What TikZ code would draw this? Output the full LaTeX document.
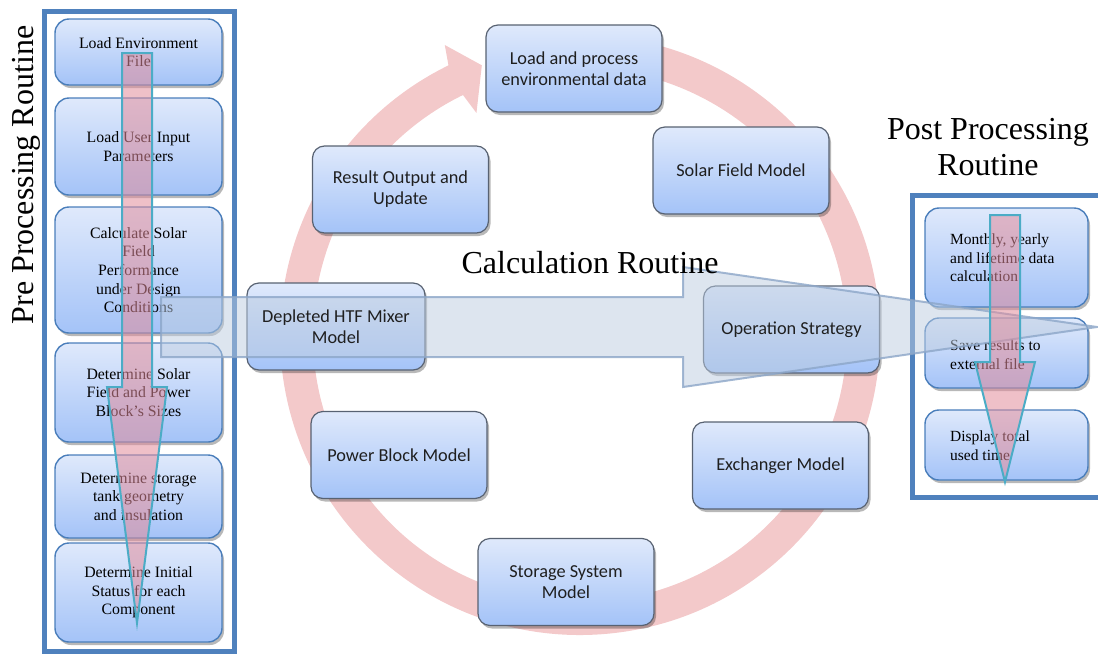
\documentclass[tikz,border=0pt]{standalone}
\usepackage{fontspec}
\setmainfont{Liberation Serif}
\newfontfamily\calib{Carlito}
\usetikzlibrary{shadows}
\definecolor{ringc}{RGB}{243,201,202}
\definecolor{boxtop}{RGB}{223,233,251}
\definecolor{boxbot}{RGB}{164,195,248}
\definecolor{cborder}{RGB}{88,98,114}
\definecolor{lborder}{RGB}{74,126,187}
\definecolor{framec}{RGB}{79,129,189}
\definecolor{tealc}{RGB}{75,172,198}
\definecolor{pinkc}{RGB}{225,140,155}
\definecolor{bigfill}{RGB}{188,204,224}
\definecolor{bigline}{RGB}{140,166,200}
\tikzset{
  shad/.style={drop shadow={shadow xshift=2pt, shadow yshift=-3pt, fill=black, opacity=0.28}},
  cfont/.style={font=\calib\fontsize{18.3}{21}\selectfont, text=black!88},
  cbox/.style={draw=cborder, line width=1.2, rounded corners=12, top color=boxtop, bottom color=boxbot,
    shad, minimum width=176, minimum height=87, align=center, cfont},
  ctext/.style={align=center, cfont},
  lbox/.style={draw=lborder, line width=1.4, rounded corners=14, top color=boxtop, bottom color=boxbot,
    shad, minimum width=167, align=center, text=black,
    font=\fontsize{15.8}{18.6}\selectfont},
  rbox/.style={draw=lborder, line width=1.4, rounded corners=14, top color=boxtop, bottom color=boxbot,
    shad, minimum width=163},
  rtext/.style={anchor=west, align=left, inner sep=0, font=\fontsize{15.5}{18.6}\selectfont},
  frame/.style={draw=framec, line width=5},
  downarrow/.style={fill=pinkc, fill opacity=0.55, draw=tealc, line width=2, line join=miter},
  bigarrow/.style={fill=bigfill, fill opacity=0.5, draw=bigline, draw opacity=0.8, line width=2},
  title/.style={font=\fontsize{32}{36}\selectfont, align=center},
}
\begin{document}
\begin{tikzpicture}[x=1pt,y=1pt]
\useasboundingbox (0,0) rectangle (1098,-654);

% ring arrow of the calculation routine
\begin{scope}[shift={(580,-335)}]
\fill[ringc] (95:300) arc[start angle=95,end angle=-244,radius=300]
  -- (-245:320) -- (-250:287) -- (-245:245) -- (-244:267)
  arc[start angle=-244,end angle=95,radius=267] -- cycle;
\end{scope}

% calculation routine boxes
\node[cbox] (load) at (574,-68.5) {Load and process\\environmental data};
\node[cbox] (solar) at (741,-170.5) {Solar Field Model};
\node[cbox] (result) at (400.5,-189.5) {Result Output and\\Update};
\node[cbox, minimum width=178] (mixer) at (336,-326.5) {};
\node[cbox] (opstrat) at (791.5,-329.5) {};
\node[cbox] (power) at (399,-455) {Power Block Model};
\node[cbox] (exch) at (780.5,-465.5) {Exchanger Model};
\node[cbox] (storage) at (566,-582) {Storage System\\Model};

% pre processing routine
\node[frame, minimum width=190, minimum height=640] (preframe) at (139,-331) {};
\node[rotate=90, font=\fontsize{32}{32}\selectfont] (pre) at (26,-175) {Pre Processing Routine};

\node[lbox, minimum height=66] (p1) at (138.5,-52) {Load Environment\\File};
\node[lbox, minimum height=97] (p2) at (138.5,-146.5) {Load User Input\\Parameters};
\node[lbox, minimum height=126] (p3) at (138.5,-270) {Calculate Solar\\Field\\Performance\\under Design\\Conditions};
\node[lbox, minimum height=99] (p4) at (138.5,-392.5) {Determine Solar\\Field and Power\\Block’s Sizes};
\node[lbox, minimum height=83] (p5) at (138.5,-496.5) {Determine storage\\tank geometry\\and insulation};
\node[lbox, minimum height=99] (p6) at (138.5,-592.5) {Determine Initial\\Status for each\\Component};

% post processing routine
\node[title] (post) at (988,-147) {Post Processing\\Routine};
\node[frame, minimum width=198, minimum height=302] (postframe) at (1011,-346) {};
\node[rbox, minimum height=99] (q1) at (1006.5,-257.5) {};
\node[rbox, minimum height=70] (q2) at (1006.5,-353) {};
\node[rbox, minimum height=70] (q3) at (1006.5,-445) {};
\node[rtext] (q1t) at (950,-258) {Monthly, yearly\\and lifetime data\\calculation};
\node[rtext] (q2t) at (950,-354.5) {Save results to\\external file};
\node[rtext] (q3t) at (950,-445.5) {Display total\\used time};

% big horizontal arrow
\coordinate (bigtip) at (1097,-327);
\draw[bigarrow] (161,-297) -- (683,-297) -- (683,-267) -- (bigtip) -- (683,-387) -- (683,-357) -- (161,-357) -- cycle;

\node[title] (calc) at (590,-263) {Calculation Routine};
\node[ctext] (mixert) at (mixer) {Depleted HTF Mixer\\Model};
\node[ctext] (opstratt) at (opstrat) {Operation Strategy};

% downward arrows
\draw[downarrow] (122,-53) -- (152,-53) -- (152,-387) -- (167,-387) -- (137,-623) -- (107,-387) -- (122,-387) -- cycle;
\draw[downarrow] (990,-215) -- (1020,-215) -- (1020,-362) -- (1035,-362) -- (1005,-482) -- (975,-362) -- (990,-362) -- cycle;
\end{tikzpicture}
\end{document}
